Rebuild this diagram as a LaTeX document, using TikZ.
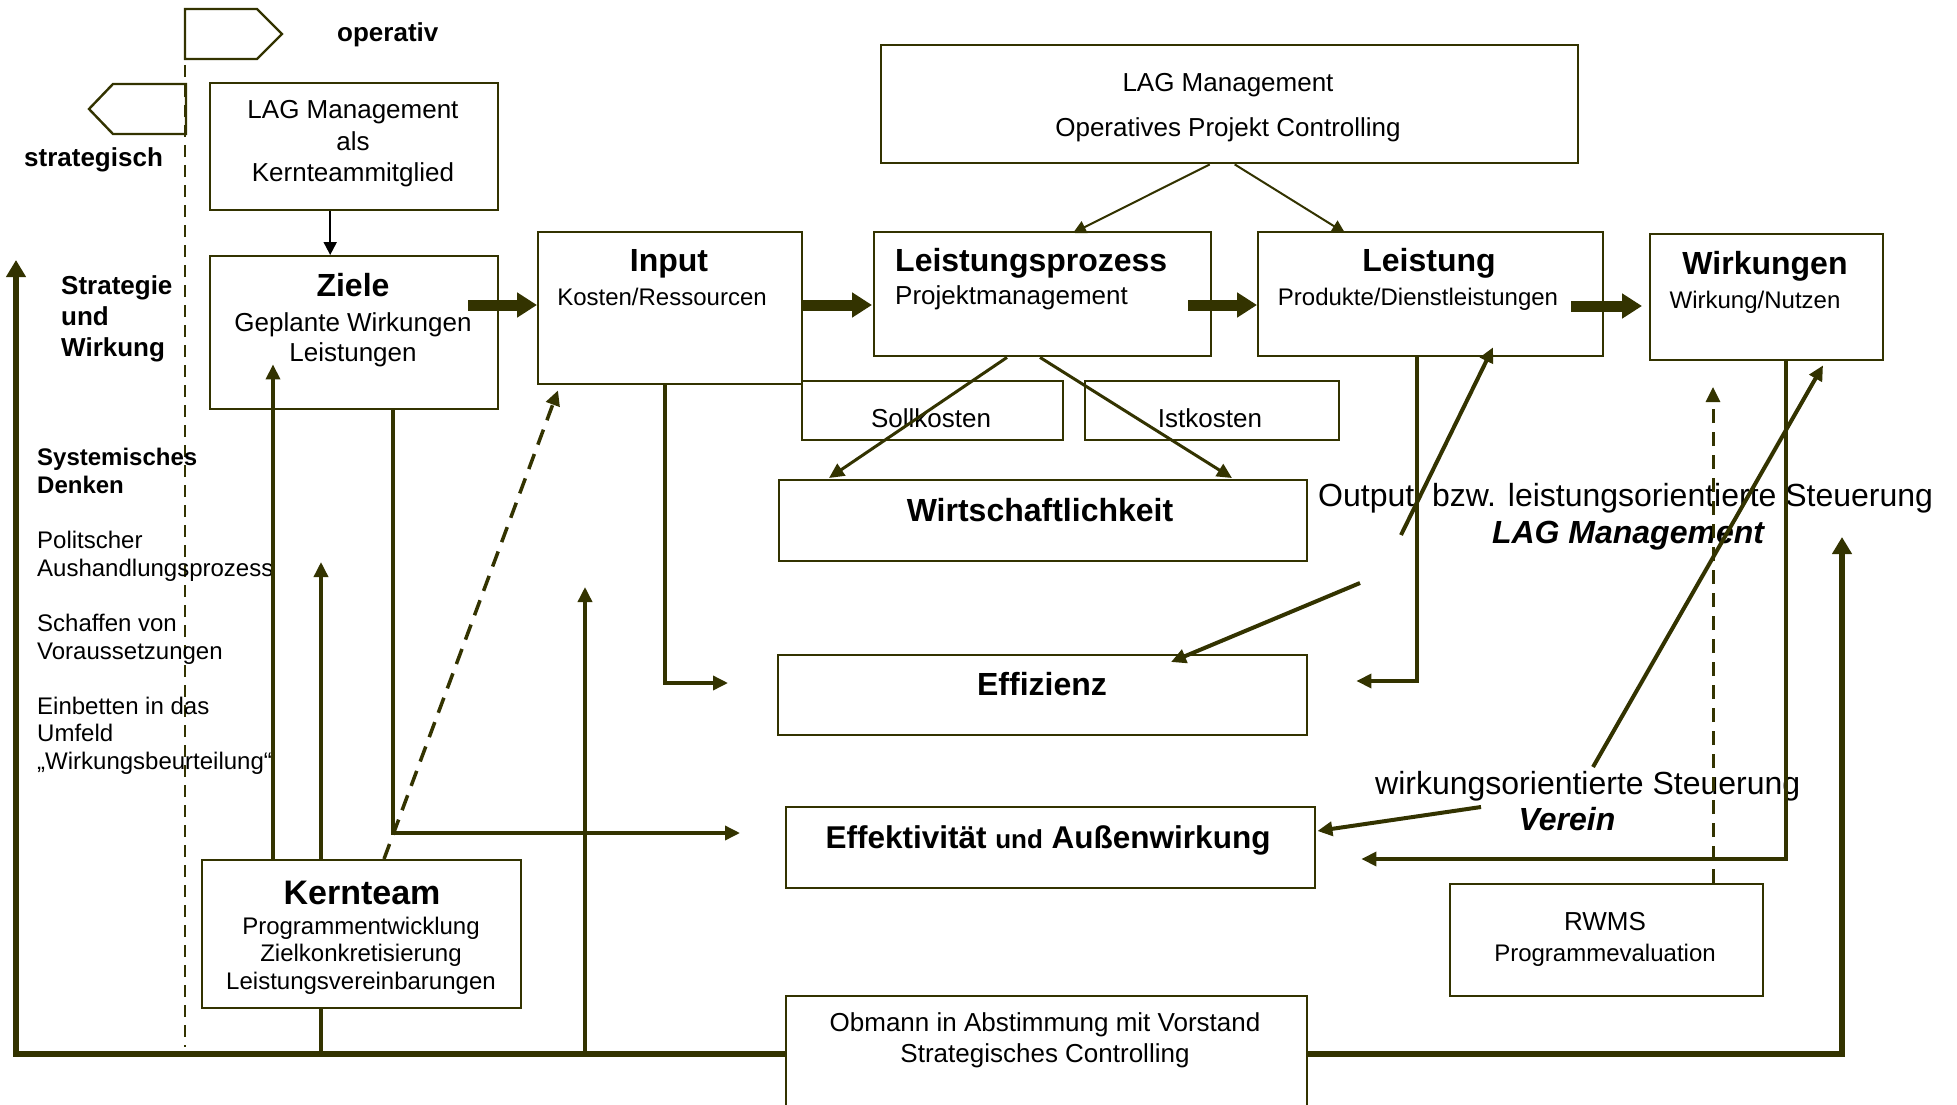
\documentclass[tikz,border=0pt]{standalone}
\usepackage{fontspec}
\setmainfont{Liberation Sans}
\usetikzlibrary{arrows.meta,calc}
\definecolor{ol}{RGB}{51,51,0}
\newcommand\myfs[2]{\fontsize{#1}{#2}\selectfont}
\begin{document}
\begin{tikzpicture}[x=1pt,y=-1pt,
 box/.style={draw=ol,line width=2.4pt,fill=white,inner sep=0pt,anchor=north west},
 tx/.style={inner sep=0pt,text=black},
 thk/.style={draw=ol,line width=6pt},
 med/.style={draw=ol,line width=3.5pt},
 thn/.style={draw=ol,line width=2pt},
 blockarrow/.style={draw=ol,line width=11pt,-{Triangle[length=20pt,width=24pt]}},
 mtip/.style={-{Triangle[length=15pt,width=14pt]}},
 ttip/.style={-{Triangle[length=13pt,width=13pt]}},
 bigtip/.style={-{Triangle[length=17pt,width=19pt]}},
 dsh/.style={dash pattern=on 14pt off 9pt}
]
\useasboundingbox (0,0) rectangle (1957,1105);

% background lines
\draw[ol,line width=2.4pt,dash pattern=on 12pt off 8pt] (185,65) -- (185,1047);
\coordinate (b321) at (321,1054);
\coordinate (t321) at (321,562);
\draw[med,mtip] (b321) -- (t321);

% tags
\draw[ol,line width=2.4pt] (185,9) -- (257,9) -- (282,34) -- (257,59) -- (185,59) -- cycle;
\draw[ol,line width=2.4pt] (186,84) -- (113,84) -- (89,109) -- (113,134) -- (186,134) -- cycle;

% boxes
\node[box,minimum width=288pt,minimum height=127pt] (lagals) at (209,82) {};
\node[box,minimum width=288pt,minimum height=153pt] (ziele) at (209,255) {};
\node[box,minimum width=264pt,minimum height=152pt] (input) at (537,231) {};
\node[box,minimum width=337pt,minimum height=124pt] (lp) at (873,231) {};
\node[box,minimum width=345pt,minimum height=124pt] (leist) at (1257,231) {};
\node[box,minimum width=233pt,minimum height=126pt] (wirk) at (1649,233) {};
\node[box,minimum width=697pt,minimum height=118pt] (lagop) at (880,44) {};
\node[box,minimum width=261pt,minimum height=59pt] (soll) at (801,380) {};
\node[box,minimum width=254pt,minimum height=59pt] (ist) at (1084,380) {};
\node[box,minimum width=528pt,minimum height=81pt] (wirt) at (778,479) {};
\node[box,minimum width=529pt,minimum height=80pt] (effz) at (777,654) {};
\node[box,minimum width=529pt,minimum height=81pt] (efft) at (785,806) {};
\node[box,minimum width=521pt,minimum height=140pt] (obm) at (785,995) {};
\node[box,minimum width=313pt,minimum height=112pt] (rwms) at (1449,883) {};
\node[box,minimum width=319pt,minimum height=148pt] (kern) at (201,859) {};

% texts
\node[tx,font=\bfseries\myfs{26}{31},anchor=base west] (toperativ) at (337,42) {operativ};
\node[tx,font=\bfseries\myfs{26}{31},anchor=base west] (tstrat) at (24,167) {strategisch};
\node[tx,font=\myfs{26}{31.5},align=center,anchor=north] (tlagals) at (353,100.4) {LAG Management\\als\\Kernteammitglied};
\node[tx,font=\bfseries\myfs{32}{38},anchor=base] (tziele) at (353,296) {Ziele};
\node[tx,font=\myfs{26}{30},align=center,anchor=north] (tziele2) at (353,312.4) {Geplante Wirkungen\\Leistungen};
\node[tx,font=\bfseries\myfs{26}{31},align=left,anchor=north west] (tstrw) at (61,275.4) {Strategie\\und\\Wirkung};
\node[tx,font=\bfseries\myfs{24}{28},align=left,anchor=north west] (tsys) at (37,447.8) {Systemisches\\Denken};
\node[tx,font=\myfs{24}{28},align=left,anchor=north west] (tpol) at (37,530.8) {Politscher\\Aushandlungsprozess};
\node[tx,font=\myfs{24}{28},align=left,anchor=north west] (tsch) at (37,613.8) {Schaffen von\\Voraussetzungen};
\node[tx,font=\myfs{24}{27.5},align=left,anchor=north west] (tein) at (37,696.8) {Einbetten in das\\Umfeld\\„Wirkungsbeurteilung“};
\node[tx,font=\bfseries\myfs{32}{38},anchor=base] (tinput) at (669,271) {Input};
\node[tx,font=\myfs{24}{28},anchor=base] (tinput2) at (662,305) {Kosten/Ressourcen};
\node[tx,font=\bfseries\myfs{32}{38},anchor=base west] (tlp) at (895,271) {Leistungsprozess};
\node[tx,font=\myfs{26}{31},anchor=base west] (tlp2) at (895,304) {Projektmanagement};
\node[tx,font=\bfseries\myfs{32}{38},anchor=base] (tleist) at (1429,271) {Leistung};
\node[tx,font=\myfs{24}{28},anchor=base] (tleist2) at (1418,305) {Produkte/Dienstleistungen};
\node[tx,font=\bfseries\myfs{32}{38},anchor=base] (twirk) at (1765,274) {Wirkungen};
\node[tx,font=\myfs{24}{28},anchor=base] (twirk2) at (1755,308) {Wirkung/Nutzen};
\node[tx,font=\myfs{26}{31},anchor=base] (tlagop) at (1228,92) {LAG Management};
\node[tx,font=\myfs{26}{31},anchor=base] (tlagop2) at (1228,137) {Operatives Projekt Controlling};
\node[tx,font=\myfs{26}{31},anchor=base] (tsoll) at (931,427) {Sollkosten};
\node[tx,font=\myfs{26}{31},anchor=base] (tist) at (1210,427) {Istkosten};
\node[tx,font=\bfseries\myfs{32}{38},anchor=base] (twirt) at (1040,521) {Wirtschaftlichkeit};
\node[tx,font=\bfseries\myfs{32}{38},anchor=base] (teffz) at (1042,695) {Effizienz};
\node[tx,font=\bfseries\myfs{31.5}{38},anchor=base] (tefft) at (1048,848) {Effektivität {\myfs{26}{31}und} Außenwirkung};
\node[tx,font=\myfs{26}{31},align=center,anchor=north] (tobm) at (1045,1012.4) {Obmann in Abstimmung mit Vorstand\\Strategisches Controlling};
\node[tx,font=\myfs{26}{31},anchor=base] (trwms) at (1605,930) {RWMS};
\node[tx,font=\myfs{24}{28},anchor=base] (trwms2) at (1605,961) {Programmevaluation};
\node[tx,font=\bfseries\myfs{34}{40},anchor=base] (tkern) at (362,904) {Kernteam};
\node[tx,font=\myfs{24}{27.5},align=center,anchor=north] (tkern2) at (361,916.8) {Programmentwicklung\\Zielkonkretisierung\\Leistungsvereinbarungen};
\node[tx,font=\myfs{32}{38},anchor=base west] (toutput) at (1318,506) {Output~~bzw. leistungsorientierte Steuerung};
\node[tx,font=\bfseries\itshape\myfs{32}{38},anchor=base] (tlagm) at (1628,543) {LAG Management};
\node[tx,font=\myfs{32}{38},anchor=base west] (twos) at (1375,794) {wirkungsorientierte Steuerung};
\node[tx,font=\bfseries\itshape\myfs{32}{38},anchor=base] (tverein) at (1567,830) {Verein};

% connectors
\draw[line width=2pt,black,ttip] ($(lagals.south)+(-24,0)$) -- ($(ziele.north)+(-24,0)$);
\draw[blockarrow] ($(ziele.north east)+(-31,50)$) -- ($(input.north west)+(0,74)$);
\draw[blockarrow] ($(input.north east)+(0,74)$) -- ($(lp.north west)+(-1,74)$);
\draw[blockarrow] ($(lp.north east)+(-24,74)$) -- ($(leist.north west)+(0,74)$);
\draw[blockarrow] ($(leist.north east)+(-33,75)$) -- ($(wirk.north west)+(-7,73)$);

\draw[thn,ttip] ($(lagop.south)+(-20,0)$) -- ($(lp.north west)+(200,2)$);
\draw[thn,ttip] ($(lagop.south)+(5,0)$) -- ($(leist.north west)+(88,2)$);

\draw[draw=ol,line width=3pt,mtip] ($(lp.south west)+(134,0)$) -- ($(wirt.north west)+(51,-1)$);
\draw[draw=ol,line width=3pt,mtip] ($(lp.south west)+(167,0)$) -- ($(wirt.north west)+(454,-1)$);

\draw[med,mtip] ($(kern.north west)+(72,0)$) -- ($(ziele.south west)+(64,-46)$);

\coordinate (z1) at ($(ziele.south west)+(184,0)$);
\coordinate (e1) at ($(efft.north west)+(-45,27)$);
\draw[med,mtip] (z1) -- (z1 |- e1) -- (e1);

\coordinate (b585) at (585,1054);
\coordinate (t585) at (585,587);
\draw[med,mtip] (b585) -- (t585);

\coordinate (i1) at ($(input.south west)+(128,0)$);
\coordinate (f1) at ($(effz.north west)+(-49,29)$);
\draw[med,mtip] (i1) -- (i1 |- f1) -- (f1);

\coordinate (l1) at ($(leist.south west)+(160,0)$);
\coordinate (f2) at ($(effz.north east)+(48,27)$);
\draw[med,mtip] (l1) -- (l1 |- f2) -- (f2);

\coordinate (w1) at ($(wirk.south west)+(137,0)$);
\coordinate (e2) at ($(efft.north east)+(45,53)$);
\draw[med,mtip] (w1) -- (w1 |- e2) -- (e2);

\draw[draw=ol,line width=3.5pt,dash pattern=on 16pt off 10pt,mtip] ($(kern.north west)+(183,0)$) -- ($(input.south west)+(21,5)$);
\coordinate (r1) at (1713,387);
\draw[draw=ol,line width=3pt,dsh,mtip] ($(rwms.north west)+(264,0)$) -- (r1);

\coordinate (lt) at (16,260);
\draw[thk,bigtip] ($(obm.north west)+(0,59)$) -- (lt |- {$(obm.north west)+(0,59)$}) -- (lt);
\coordinate (rt) at (1842,537);
\draw[thk,bigtip] ($(obm.north east)+(0,59)$) -- (rt |- {$(obm.north east)+(0,59)$}) -- (rt);

\coordinate (d1) at (1401,535);
\draw[draw=ol,line width=4pt,mtip] (d1) -- ($(leist.south west)+(236,-10)$);
\coordinate (d2) at (1593,767);
\draw[draw=ol,line width=4pt,mtip] (d2) -- ($(wirk.south west)+(174,4)$);
\coordinate (d3) at (1360,583);
\draw[draw=ol,line width=4pt,mtip] (d3) -- ($(effz.north west)+(394,8)$);
\coordinate (d4) at (1481,807);
\draw[draw=ol,line width=4pt,mtip] (d4) -- ($(efft.north east)+(1,25)$);
\end{tikzpicture}
\end{document}
